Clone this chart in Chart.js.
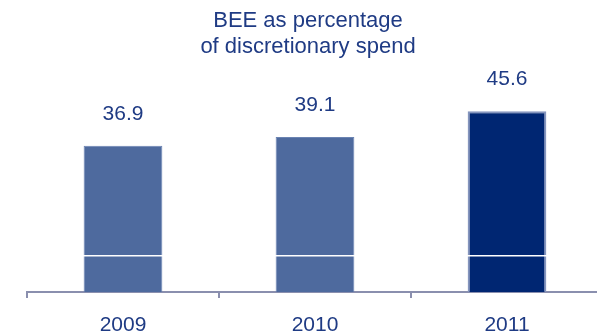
<!DOCTYPE html>
<html>
<head>
<meta charset="utf-8">
<script src="https://cdn.jsdelivr.net/npm/chart.js@4/dist/chart.umd.min.js"></script>
<style>
    html, body { margin: 0; padding: 0; background: #fff; overflow: hidden; }
    #wrap { width: 616px; height: 336px; }
</style>
</head>
<body>
<div id="wrap"><canvas id="myChart"></canvas></div>
<script>
// chart data
var years = ['2009', '2010', '2011'];
var beeShare = [36.9, 39.1, 45.6];
var barColors = ['#4e6a9e', '#4e6a9e', '#002672'];
var barEdges = ['#6a83b2', '#6a83b2', '#8595bd'];
var titleLines = ['BEE as percentage', 'of discretionary spend'];
var dividerLevel = 9.1;   // thin white rule across the bars

var textColor = '#1f3b84';
var axisColor = '#8a8fae';
var fontName = "'Liberation Sans', Arial, sans-serif";

// writes the value above each bar
var valueLabels = {
    id: 'valueLabels',
    afterDatasetsDraw: function(chart) {
        var ctx = chart.ctx;
        var meta = chart.getDatasetMeta(0);
        ctx.save();
        ctx.fillStyle = textColor;
        ctx.font = '21px ' + fontName;
        ctx.textAlign = 'center';
        ctx.textBaseline = 'alphabetic';
        meta.data.forEach(function(bar, i) {
            ctx.fillText(beeShare[i].toFixed(1), bar.x, bar.y - 26);
        });
        ctx.restore();
    }
};

var config = {
    type: 'bar',
    data: {
        labels: years,
        datasets: [{
            data: beeShare,
            backgroundColor: barColors,
            borderColor: barEdges,
            borderWidth: [1, 1, 2],
            borderSkipped: 'bottom',
            barPercentage: 0.82,
            categoryPercentage: 0.5
        }]
    },
    options: {
        responsive: true,
        maintainAspectRatio: false,
        devicePixelRatio: 1,
        animation: false,
        layout: { padding: { left: 13, right: 13, top: 0, bottom: 0 } },
        plugins: {
            legend: { display: false },
            tooltip: { enabled: false },
            title: {
                display: true,
                text: titleLines,
                color: textColor,
                font: { family: fontName, size: 22, weight: 'normal', lineHeight: 1.18 },
                padding: { top: 8, bottom: 34 }
            }
        },
        scales: {
            x: {
                afterFit: function(scale) { scale.height = 44; },
                grid: {
                    offset: true,
                    drawOnChartArea: false,
                    drawTicks: true,
                    tickLength: 6,
                    color: axisColor,
                    lineWidth: 2
                },
                border: { display: true, color: axisColor, width: 2 },
                ticks: {
                    color: textColor,
                    font: { family: fontName, size: 21 },
                    padding: 15,
                    maxRotation: 0
                }
            },
            y: {
                min: 0,
                max: 50,
                display: true,
                afterFit: function(scale) { scale.width = 14; },
                border: { display: false },
                ticks: { display: false },
                afterBuildTicks: function(scale) {
                    scale.ticks = [{ value: dividerLevel }];
                },
                grid: {
                    z: 1,
                    drawTicks: false,
                    tickLength: 0,
                    lineWidth: 1.5,
                    color: function(c) {
                        return c.tick && c.tick.value === dividerLevel ? '#ffffff' : 'rgba(0,0,0,0)';
                    }
                }
            }
        }
    },
    plugins: [valueLabels]
};

var myChart = new Chart(document.getElementById('myChart'), config);
</script>
</body>
</html>
